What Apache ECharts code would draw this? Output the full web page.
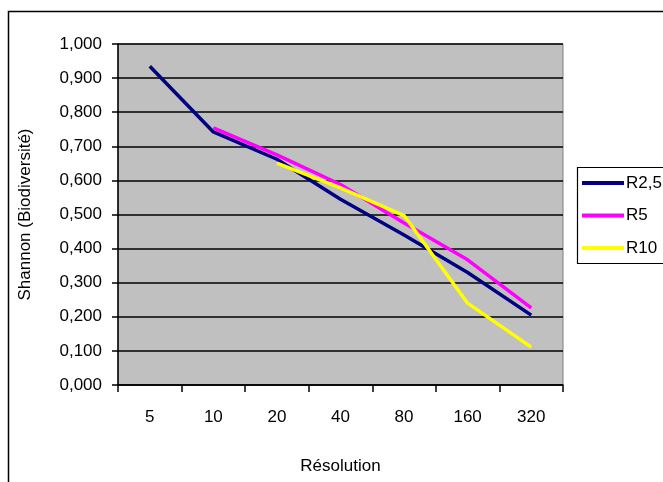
<!DOCTYPE html>
<html>
<head>
<meta charset="utf-8">
<script src="https://cdn.jsdelivr.net/npm/echarts@6/dist/echarts.min.js"></script>
<style>html,body{margin:0;padding:0;background:#fff;}#c{width:663px;height:482px;}</style>
</head>
<body>
<div id="c"></div>
<script>
var categories = ['5', '10', '20', '40', '80', '160', '320'];
var seriesNames = ['R2,5', 'R5', 'R10'];
var r25 = [0.935, 0.742, 0.662, 0.545, 0.440, 0.330, 0.205];
var r5 = [null, 0.754, 0.675, 0.588, 0.475, 0.367, 0.226];
var r10 = [null, null, 0.651, 0.578, 0.497, 0.240, 0.111];
var yTicks = [0, 0.1, 0.2, 0.3, 0.4, 0.5, 0.6, 0.7, 0.8, 0.9, 1.0];
var colors = ['#000080', '#FF00FF', '#FFFF00'];

var FONT = 'Liberation Sans, Arial, sans-serif';
var FS = 17;
var chart = echarts.init(document.getElementById('c'), null, {renderer: 'canvas'});
var values = [r25, r5, r10];
chart.setOption({
  animation: false,
  backgroundColor: '#ffffff',
  textStyle: {fontFamily: FONT, color: '#000'},
  graphic: [
    {type: 'rect', shape: {x: 8.5, y: 11.5, width: 700, height: 520}, style: {fill: 'none', stroke: '#000', lineWidth: 1.5}, z: -1},
    {type: 'rect', shape: {x: 577.5, y: 167.5, width: 120, height: 96}, style: {fill: '#fff', stroke: '#000', lineWidth: 1.2}, z: 0}
  ],
  grid: {left: 118, top: 44, right: 100, bottom: 97, show: true, backgroundColor: '#C0C0C0', borderColor: '#808080', borderWidth: 1},
  legend: {
    orient: 'vertical', left: 582, top: 174.5, padding: 0, itemGap: 15.5,
    itemWidth: 42, itemHeight: 4, icon: 'rect',
    textStyle: {fontFamily: FONT, fontSize: FS, color: '#000', padding: [0, 0, 0, -3]},
    data: seriesNames, z: 5
  },
  xAxis: {
    type: 'category', data: categories, boundaryGap: true,
    name: 'Résolution', nameLocation: 'middle', nameGap: 73,
    nameTextStyle: {fontFamily: FONT, fontSize: FS, color: '#000'},
    axisLine: {lineStyle: {color: '#000', width: 1.5}},
    axisTick: {show: true, inside: false, length: 7, alignWithLabel: false, lineStyle: {color: '#000', width: 1.5}},
    axisLabel: {fontFamily: FONT, fontSize: FS, color: '#000', margin: 24},
    splitLine: {show: false}
  },
  yAxis: {
    type: 'value', min: 0, max: 1, interval: 0.1,
    name: 'Shannon (Biodiversité)', nameLocation: 'middle', nameGap: 84, nameRotate: 90,
    nameTextStyle: {fontFamily: FONT, fontSize: FS, color: '#000'},
    axisLine: {show: true, lineStyle: {color: '#000', width: 1.5}},
    axisTick: {show: true, inside: false, length: 6, lineStyle: {color: '#000', width: 1.5}},
    axisLabel: {fontFamily: FONT, fontSize: FS, color: '#000', margin: 16,
      formatter: function (v) { return v.toFixed(3).replace('.', ','); }},
    splitLine: {show: true, lineStyle: {color: '#000', width: 1.5}}
  },
  series: seriesNames.map(function (n, i) {
    return {
      name: n, type: 'line', data: values[i], color: colors[i],
      showSymbol: false, symbol: 'none', connectNulls: false,
      lineStyle: {color: colors[i], width: 3.5}, z: 3 + i
    };
  })
});
</script>
</body>
</html>
